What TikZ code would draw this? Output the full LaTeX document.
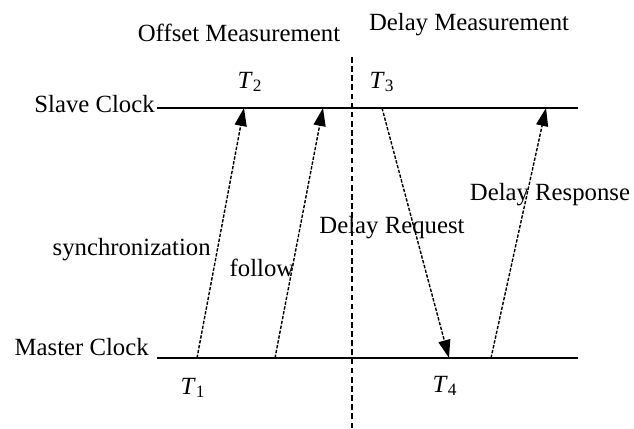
\documentclass[tikz,border=0pt]{standalone}
\usepackage{fontspec}
\setmainfont{Liberation Serif}
\usepackage{tikz}
\usetikzlibrary{arrows.meta, positioning, calc}

\tikzset{
  lbl/.style={font=\fontsize{17.6}{20}\selectfont, inner sep=0pt},
  clock/.style={line width=1.2pt},
  msg/.style={line width=1pt, dash pattern=on 2.4pt off 1.1pt, -{Triangle[length=0.45cm, width=0.3cm]}},
  divider/.style={line width=0.8pt, dash pattern=on 4pt off 2.5pt}
}
\newcommand{\tstamp}[1]{\textit{T}\textsubscript{#1}}

\begin{document}
\begin{tikzpicture}[x=0.025cm, y=-0.025cm]
  \useasboundingbox (0,0) rectangle (634,429);

  % Clock lines
  \coordinate (slaveL) at (157,108);
  \coordinate (slaveR) at (578,108);
  \coordinate (masterL) at (157,358);
  \coordinate (masterR) at (578,358);
  \draw[clock] (slaveL) -- (slaveR);
  \draw[clock] (masterL) -- (masterR);
  \node[lbl, anchor=east] (slave) at (155,104) {Slave Clock};
  \node[lbl, anchor=east] (master) at (149,347) {Master Clock};

  % Phase divider
  \coordinate (divtop) at (352,57);
  \coordinate (divbot) at (352,429);
  \draw[divider] (divtop) -- (divbot);
  \node[lbl] (offset) at (239,33) {Offset Measurement};
  \node[lbl] (delay) at (469,25) {Delay Measurement};

  % Message end points
  \coordinate (syncA) at (197,358);
  \coordinate (syncB) at (244,108);
  \coordinate (follA) at (275,358);
  \coordinate (follB) at (323,108);
  \coordinate (reqA) at (382,108);
  \coordinate (reqB) at (449,358);
  \coordinate (respA) at (491,358);
  \coordinate (respB) at (546,108);

  % Messages
  \draw[msg] (syncA) -- (syncB);
  \draw[msg] (follA) -- (follB);
  \draw[msg] (reqA) -- (reqB);
  \draw[msg] (respA) -- (respB);
  \node[lbl, anchor=east] (synclbl) at (211,250) {synchronization};
  \node[lbl] (folllbl) at (262,268) {follow};
  \node[lbl] (reqlbl) at (392,228) {Delay Request};
  \node[lbl] (resplbl) at (550,195) {Delay Response};

  % Time stamps
  \node[lbl] (t1) at (193,388) {\tstamp{1}};
  \node[lbl] (t2) at (250,82) {\tstamp{2}};
  \node[lbl] (t3) at (382,82) {\tstamp{3}};
  \node[lbl] (t4) at (445,386) {\tstamp{4}};
\end{tikzpicture}
\end{document}
